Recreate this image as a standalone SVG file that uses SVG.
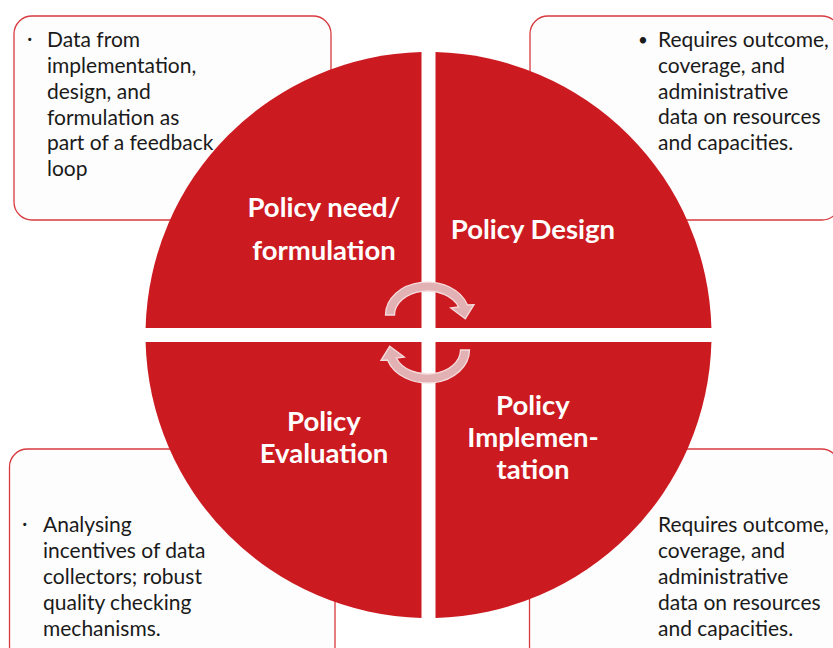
<svg xmlns="http://www.w3.org/2000/svg" width="833" height="648" viewBox="0 0 833 648">
<style>
.box{fill:#FDFDFD;stroke:#D83A3F;stroke-width:1.3}
.q{fill:#CC1A21}
.body{font-family:Lato,"Liberation Sans",sans-serif;font-size:21px;fill:#1A1A1A}
.lbl{font-family:Lato,"Liberation Sans",sans-serif;font-size:27.5px;font-weight:bold;fill:#FFFFFF;text-anchor:middle}
.arr{fill:#E2B1B3;stroke:#F6DCDD;stroke-width:1.3}
</style>
<defs>
<path id="arrowShape" d="M 385.5 315 A 42 33 0 0 1 467.5 305 L 474 304.7 L 465.3 318.7 L 450.7 308 L 458.6 307 A 33 24 0 0 0 394.5 315 Z"/>
</defs>
<rect width="833" height="648" fill="#FFFFFF"/>

<g id="box-top-left">
<rect class="box" x="14" y="16" width="317" height="204" rx="18"/>
<text class="body" x="27" y="46">·</text>
<text class="body" x="47" y="47">Data from</text>
<text class="body" x="47" y="73">implementation,</text>
<text class="body" x="47" y="99">design, and</text>
<text class="body" x="47" y="124.5">formulation as</text>
<text class="body" x="47" y="150">part of a feedback</text>
<text class="body" x="47" y="176">loop</text>
</g>

<g id="box-top-right">
<rect class="box" x="530" y="16" width="310" height="204" rx="18"/>
<text class="body" x="638" y="46" style="font-size:17px">•</text>
<text class="body" x="658" y="47">Requires outcome,</text>
<text class="body" x="658" y="73">coverage, and</text>
<text class="body" x="658" y="98.5">administrative</text>
<text class="body" x="658" y="124">data on resources</text>
<text class="body" x="658" y="150">and capacities.</text>
</g>

<g id="box-bottom-left">
<rect class="box" x="9.5" y="449" width="325.5" height="215" rx="18"/>
<text class="body" x="22" y="531">·</text>
<text class="body" x="43" y="532">Analysing</text>
<text class="body" x="43" y="558">incentives of data</text>
<text class="body" x="43" y="584">collectors; robust</text>
<text class="body" x="43" y="609.5">quality checking</text>
<text class="body" x="43" y="635.5">mechanisms.</text>
</g>

<g id="box-bottom-right">
<rect class="box" x="529.5" y="449" width="310" height="215" rx="18"/>
<text class="body" x="658" y="532">Requires outcome,</text>
<text class="body" x="658" y="558">coverage, and</text>
<text class="body" x="658" y="584">administrative</text>
<text class="body" x="658" y="609.5">data on resources</text>
<text class="body" x="658" y="635.5">and capacities.</text>
</g>

<g id="policy-need">
<path class="q" d="M 421.5 328 L 421.5 52.09 A 283 283 0 0 0 145.59 328 Z"/>
<text class="lbl" x="324" y="217">Policy need/</text>
<text class="lbl" x="324" y="260">formulation</text>
</g>

<g id="policy-design">
<path class="q" d="M 435.5 328 L 711.41 328 A 283 283 0 0 0 435.5 52.09 Z"/>
<text class="lbl" x="533" y="239">Policy Design</text>
</g>

<g id="policy-implementation">
<path class="q" d="M 435.5 342 L 435.5 617.91 A 283 283 0 0 0 711.41 342 Z"/>
<text class="lbl" x="533" y="415">Policy</text>
<text class="lbl" x="533" y="447">Implemen-</text>
<text class="lbl" x="533" y="479">tation</text>
</g>

<g id="policy-evaluation">
<path class="q" d="M 421.5 342 L 145.59 342 A 283 283 0 0 0 421.5 617.91 Z"/>
<text class="lbl" x="324" y="431">Policy</text>
<text class="lbl" x="324" y="463">Evaluation</text>
</g>

<g id="connectors">
<use href="#arrowShape" class="arr"/>
<use href="#arrowShape" class="arr" transform="rotate(180 427.5 332.5)"/>
</g>
</svg>
